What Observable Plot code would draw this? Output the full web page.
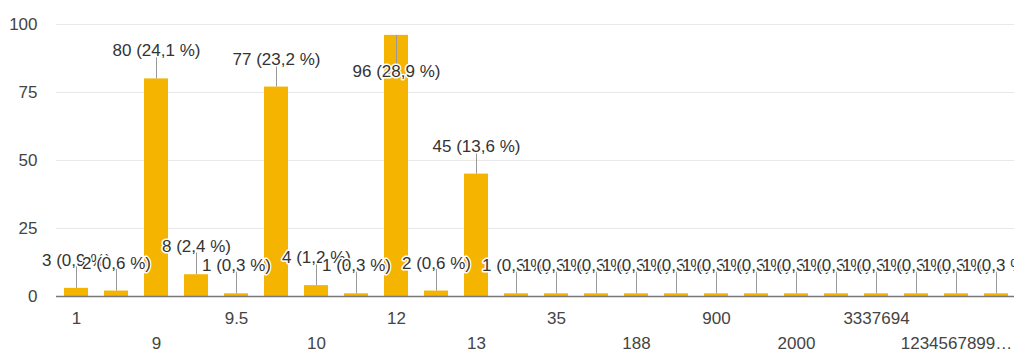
<!DOCTYPE html>
<html>
<head>
<meta charset="utf-8">
<script src="https://cdn.jsdelivr.net/npm/d3@7"></script>
<script src="https://cdn.jsdelivr.net/npm/@observablehq/plot@0.6"></script>
<style>
  html, body { margin: 0; padding: 0; background: #fff; overflow: hidden; }
</style>
</head>
<body>
<div id="chart"></div>
<script>
// Number of responses for each answer, in the order the answers are listed
const counts = [3, 2, 80, 8, 1, 77, 4, 1, 96, 2, 45, 1, 1, 1, 1, 1, 1, 1, 1, 1, 1, 1, 1, 1];
// Axis labels: only every other answer is labelled
const tickLabels = ["1", "", "9", "", "9.5", "", "10", "", "12", "", "13", "", "35", "",
  "188", "", "900", "", "2000", "", "3337694", "", "1234567899…", ""];
const yTicks = [0, 25, 50, 75, 100];

const total = d3.sum(counts);
const pct = d3.format(".1f");
const rows = counts.map((v, i) => ({
  i,
  v,
  label: `${v} (${pct(v / total * 100).replace(".", ",")} %)`
}));

const yMax = d3.max(yTicks);
// a label goes above its bar unless that would leave the plot area
const fitsAbove = d => d.v + 12 <= yMax;
const above = rows.filter(fitsAbove);
const inside = rows.filter(d => !fitsAbove(d));

const idx = d3.range(counts.length);
const row1 = idx.filter(i => tickLabels[i] && i % 4 === 0);
const row2 = idx.filter(i => tickLabels[i] && i % 4 === 2);

const font = "'Liberation Sans', Arial, sans-serif";
const labelStyle = {
  x: "i",
  y: "v",
  text: "label",
  fontSize: 17,
  fill: "#333",
  stroke: "white",
  strokeWidth: 3,
  paintOrder: "stroke"
};

const chart = Plot.plot({
  width: 1014,
  height: 352,
  marginTop: 24,
  marginBottom: 56,
  marginLeft: 56,
  marginRight: 0,
  style: { fontFamily: font, fontSize: "17px", background: "white", overflow: "hidden" },
  x: { type: "band", domain: idx, range: [56, 1016], paddingInner: 0.4, paddingOuter: 0.2 },
  y: { domain: [0, yMax] },
  marks: [
    Plot.gridY(yTicks, { stroke: "#e8e8e8", strokeOpacity: 1 }),
    Plot.axisY(yTicks, { tickSize: 0, tickPadding: 19, fontSize: 17, fill: "#444", label: null }),
    Plot.axisX(row1, { tickSize: 0, tickPadding: 15, fontSize: 17, fill: "#444", label: null,
      tickFormat: i => tickLabels[i] }),
    Plot.axisX(row2, { tickSize: 0, tickPadding: 40, fontSize: 17, fill: "#444", label: null,
      tickFormat: i => tickLabels[i] }),
    Plot.barY(rows, { x: "i", y: "v", fill: "#f4b400" }),
    Plot.ruleY([0], { stroke: "#777", strokeWidth: 1.5 }),
    // leader lines from each bar top to its value label
    Plot.ruleX(rows, { x: "i", y1: "v", y2: d => fitsAbove(d) ? d.v + 8 : d.v - 12,
      stroke: "#999", strokeWidth: 1 }),
    Plot.text(above, { ...labelStyle, dy: -28 }),
    Plot.text(inside, { ...labelStyle, dy: 36 })
  ]
});

document.getElementById("chart").append(chart);
</script>
</body>
</html>
